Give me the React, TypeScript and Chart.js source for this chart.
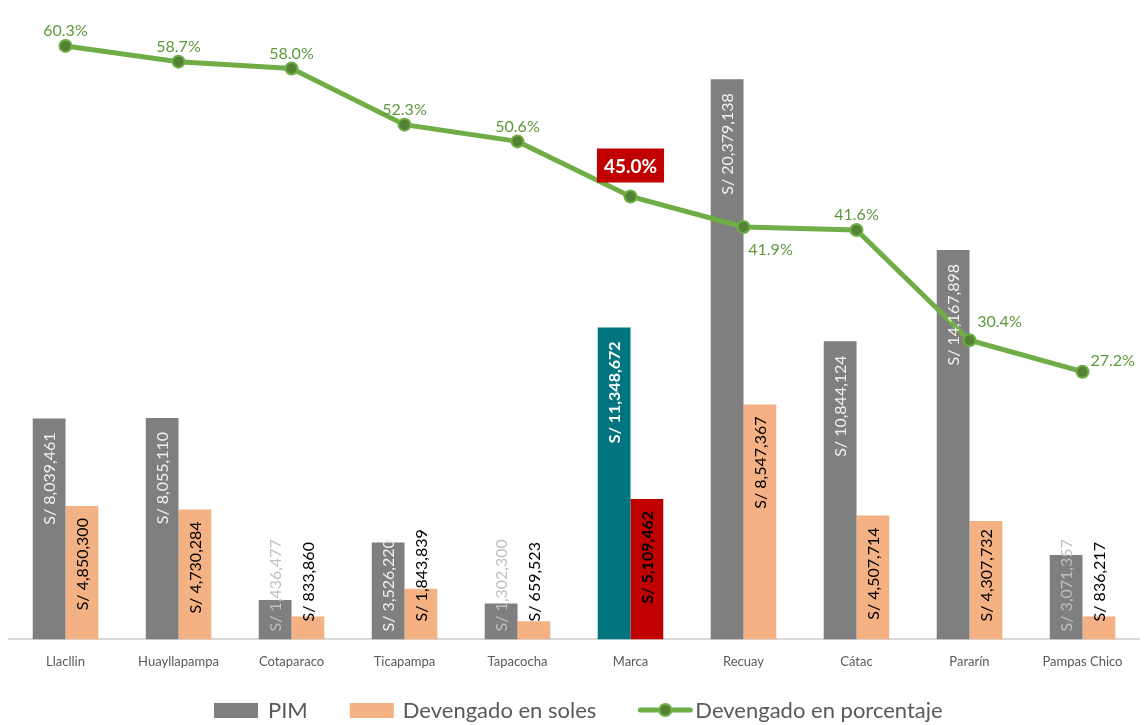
import React, { useEffect, useRef } from "react";
import { Chart, registerables } from "chart.js";

Chart.register(...registerables);

const categories = ["Llacllin", "Huayllapampa", "Cotaparaco", "Ticapampa", "Tapacocha", "Marca", "Recuay", "Cátac", "Pararín", "Pampas Chico"];
const pimValues = [8039461, 8055110, 1436477, 3526220, 1302300, 11348672, 20379138, 10844124, 14167898, 3071357];
const devengadoValues = [4850300, 4730284, 833860, 1843839, 659523, 5109462, 8547367, 4507714, 4307732, 836217];
const percentValues = [60.3, 58.7, 58.0, 52.3, 50.6, 45.0, 41.9, 41.6, 30.4, 27.2];
const highlighted = "Marca";
const percentLabelPlacement = ["top", "top", "top", "top", "top", "box", "bottomRight", "top", "topRight", "right"];

const FONT = "Lato, 'Open Sans', sans-serif";
const GRAY = "#7f7f7f";
const ORANGE = "#f4b183";
const TEAL = "#00747f";
const RED = "#c00000";
const GREEN = "#70ad47";
const GREEN_DARK = "#548235";
const GREEN_TEXT = "#5b9a3c";

const fmtSoles = (v: number) => "S/ " + v.toLocaleString("en-US");

const labelsPlugin = {
  id: "customLabels",
  afterDraw(chart: any) {
    const ctx = chart.ctx;
    const base = chart.chartArea.bottom;
    [0, 1].forEach((di) => {
      const meta = chart.getDatasetMeta(di);
      const values = di === 0 ? pimValues : devengadoValues;
      meta.data.forEach((bar: any, i: number) => {
        const isHi = categories[i] === highlighted;
        ctx.save();
        ctx.font = (isHi ? "bold " : "") + "16px " + FONT;
        const txt = fmtSoles(values[i]);
        const w = ctx.measureText(txt).width;
        let top = bar.y + (di === 0 ? 14 : 12);
        let bottom = top + w;
        const limit = base - (di === 0 ? 8 : 18);
        let overflow = false;
        if (bottom > limit) {
          bottom = limit;
          overflow = bar.y - (bottom - w) > 10;
        }
        if (di === 0) ctx.fillStyle = isHi ? "#ffffff" : overflow ? "#bfbfbf" : "#f0f0f0";
        else ctx.fillStyle = "#000000";
        ctx.translate(bar.x, bottom);
        ctx.rotate(-Math.PI / 2);
        ctx.textAlign = "left";
        ctx.textBaseline = "middle";
        ctx.fillText(txt, 0, 1);
        ctx.restore();
      });
    });
    const lineMeta = chart.getDatasetMeta(2);
    lineMeta.data.forEach((pt: any, i: number) => {
      const txt = percentValues[i].toFixed(1) + "%";
      const pos = percentLabelPlacement[i];
      ctx.save();
      ctx.textBaseline = "middle";
      if (pos === "box") {
        ctx.font = "bold 19px " + FONT;
        const w = ctx.measureText(txt).width;
        const bw = w + 14;
        const bh = 34;
        const cy = pt.y - 31;
        ctx.fillStyle = RED;
        ctx.fillRect(pt.x - bw / 2, cy - bh / 2, bw, bh);
        ctx.fillStyle = "#ffffff";
        ctx.textAlign = "center";
        ctx.fillText(txt, pt.x, cy + 1);
      } else {
        ctx.font = "16px " + FONT;
        ctx.fillStyle = GREEN_TEXT;
        let x = pt.x;
        let y = pt.y - 15;
        ctx.textAlign = "center";
        if (pos === "bottomRight") {
          x = pt.x + 27;
          y = pt.y + 23;
        } else if (pos === "topRight") {
          x = pt.x + 30;
          y = pt.y - 18;
        } else if (pos === "right") {
          ctx.textAlign = "left";
          x = pt.x + 8;
          y = pt.y - 11;
        }
        ctx.fillText(txt, x, y);
      }
      ctx.restore();
    });
    ctx.save();
    ctx.font = "22px " + FONT;
    ctx.textBaseline = "middle";
    ctx.textAlign = "left";
    const items = [
      { kind: "box", color: GRAY, text: "PIM", mw: 44, gap: 10 },
      { kind: "box", color: ORANGE, text: "Devengado en soles", mw: 44, gap: 9 },
      { kind: "line", color: GREEN, text: "Devengado en porcentaje", mw: 54, gap: 3 },
    ];
    const itemGap = 42;
    let x = 214;
    const cy = 710;
    items.forEach((it) => {
      if (it.kind === "box") {
        ctx.fillStyle = it.color;
        ctx.fillRect(x, cy - 7, it.mw, 15);
      } else {
        ctx.strokeStyle = GREEN;
        ctx.lineWidth = 5;
        ctx.lineCap = "round";
        ctx.beginPath();
        ctx.moveTo(x + 2, cy);
        ctx.lineTo(x + it.mw - 2, cy);
        ctx.stroke();
        ctx.beginPath();
        ctx.arc(x + it.mw / 2, cy, 6, 0, Math.PI * 2);
        ctx.fillStyle = GREEN_DARK;
        ctx.fill();
        ctx.lineWidth = 2;
        ctx.strokeStyle = GREEN;
        ctx.stroke();
      }
      x += it.mw + it.gap;
      ctx.fillStyle = "#595959";
      ctx.fillText(it.text, x, cy + 1);
      x += ctx.measureText(it.text).width + itemGap;
    });
    ctx.restore();
  },
};

export default function App() {
  const ref = useRef<HTMLCanvasElement | null>(null);
  useEffect(() => {
    if (!ref.current) return;
    const chart = new Chart(ref.current, {
      type: "bar",
      data: {
        labels: categories,
        datasets: [
          {
            type: "bar",
            label: "PIM",
            data: pimValues,
            backgroundColor: categories.map((c) => (c === highlighted ? TEAL : GRAY)),
            yAxisID: "y",
            order: 2,
            categoryPercentage: 0.58,
            barPercentage: 1,
          },
          {
            type: "bar",
            label: "Devengado en soles",
            data: devengadoValues,
            backgroundColor: categories.map((c) => (c === highlighted ? RED : ORANGE)),
            yAxisID: "y",
            order: 2,
            categoryPercentage: 0.58,
            barPercentage: 1,
          },
          {
            type: "line",
            label: "Devengado en porcentaje",
            data: percentValues,
            yAxisID: "y1",
            order: 0,
            borderColor: GREEN,
            borderWidth: 5,
            tension: 0,
            pointRadius: 6,
            pointBackgroundColor: GREEN_DARK,
            pointBorderColor: GREEN,
            pointBorderWidth: 2,
          } as any,
        ],
      },
      options: {
        animation: false,
        responsive: true,
        maintainAspectRatio: false,
        layout: { padding: { left: 9, right: 0, top: 10, bottom: 40 } },
        plugins: { legend: { display: false }, tooltip: { enabled: false } },
        scales: {
          x: {
            grid: { display: false, drawTicks: false },
            border: { display: true, color: "#d9d9d9", width: 2 },
            ticks: { color: "#595959", font: { family: FONT, size: 13 }, padding: 15, maxRotation: 0, autoSkip: false },
          },
          y: { display: false, min: 0, max: 22.9e6 },
          y1: { display: false, min: 0, max: 63.95 },
        },
      },
      plugins: [labelsPlugin],
    });
    return () => chart.destroy();
  }, []);
  return (
    <div style={{ position: "fixed", left: 0, top: 0, width: 1147, height: 725, background: "#fff" }}>
      <canvas ref={ref} />
    </div>
  );
}
